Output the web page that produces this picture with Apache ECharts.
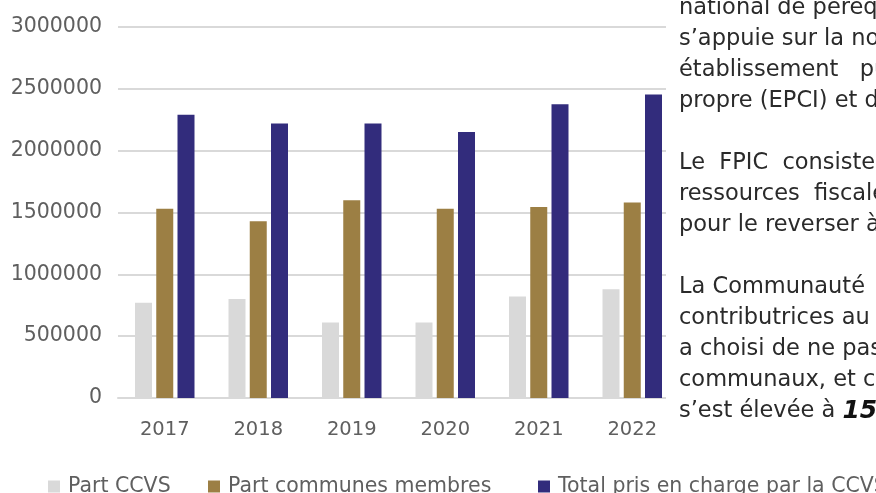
<!DOCTYPE html>
<html>
<head>
<meta charset="utf-8">
<script src="https://cdn.jsdelivr.net/npm/echarts@6/dist/echarts.min.js"></script>
<style>
  html, body { margin: 0; padding: 0; background: #fff; }
  #chart { width: 876px; height: 493px; }
</style>
</head>
<body>
<div id="chart"></div>
<script>
// data
const years = ['2017', '2018', '2019', '2020', '2021', '2022']
const partCCVS = [770000, 800000, 610000, 610000, 820000, 880000]
const partCommunes = [1530000, 1430000, 1600000, 1530000, 1545000, 1580000]
const totalCCVS = [2290000, 2220000, 2220000, 2150000, 2375000, 2455000]
const seriesNames = ['Part CCVS', 'Part communes membres', 'Total pris en charge par la CCVS']
const yTicks = [0, 500000, 1000000, 1500000, 2000000, 2500000, 3000000]

// text of the page beside the chart (cut at the right edge)
const sideLines = [
  'national de péréquation',
  's\u2019appuie sur la notion',
  'établissement   public',
  'propre (EPCI) et des',
  '',
  'Le  FPIC  consiste',
  'ressources  fiscales',
  'pour le reverser à',
  '',
  'La Communauté',
  'contributrices au',
  'a choisi de ne pas',
  'communaux, et cette',
  '{n|s\u2019est élevée à }{b|15}'
]

let font = 'DejaVu Sans'
let grey = '#5f5f5f'
let colors = ['#d9d9d9', '#9c7f44', '#322c7c']

let myChart = echarts.init(document.getElementById('chart'))

let sideText = []
sideLines.forEach((line, i) => {
  if (!line) return
  sideText.push({
    type: 'text',
    z: 101,
    style: {
      text: line,
      x: 679,
      y: 8 + i * 31,
      verticalAlign: 'middle',
      font: '22.5px "DejaVu Sans"',
      fill: '#2a2a2a',
      rich: {
        n: { font: '22.5px "DejaVu Sans"', fill: '#2a2a2a' },
        b: { font: 'italic bold 25px "DejaVu Sans"', fill: '#111' }
      }
    }
  })
})

function legendAt(name, left) {
  return {
    data: [name],
    left: left,
    top: 471,
    icon: 'rect',
    itemWidth: 12,
    itemHeight: 12,
    selectedMode: false,
    textStyle: { fontFamily: font, fontSize: 20.5, color: grey, padding: [0, 0, 0, 3] }
  }
}

let option = {
  animation: false,
  color: colors,
  grid: {
    left: 118,
    right: 197,
    top: 27,
    bottom: 95
    // containLabel: false
  },
  legend: [
    legendAt(seriesNames[0], 43),
    legendAt(seriesNames[1], 203),
    legendAt(seriesNames[2], 533)
  ],
  xAxis: {
    type: 'category',
    data: years,
    axisTick: { show: false },
    axisLine: { lineStyle: { color: '#d9d9d9', width: 2 } },
    axisLabel: { color: grey, fontFamily: font, fontSize: 19.5, margin: 22 }
  },
  yAxis: {
    type: 'value',
    min: yTicks[0],
    max: yTicks[yTicks.length - 1],
    interval: yTicks[1] - yTicks[0],
    splitLine: { lineStyle: { color: '#d9d9d9', width: 2 } },
    axisLabel: {
      color: grey,
      fontFamily: font,
      fontSize: 20.5,
      margin: 16,
      formatter: (v) => String(v)
    }
  },
  graphic: [
    { type: 'rect', z: 100, shape: { x: 666, y: 0, width: 210, height: 440 }, style: { fill: '#fff' } }
  ].concat(sideText),
  series: [
    { name: seriesNames[0], type: 'bar', data: partCCVS, barWidth: 17, barGap: '25%' },
    { name: seriesNames[1], type: 'bar', data: partCommunes, barWidth: 17, barGap: '25%' },
    { name: seriesNames[2], type: 'bar', data: totalCCVS, barWidth: 17, barGap: '25%' }
  ]
}
myChart.setOption(option)
</script>
</body>
</html>
